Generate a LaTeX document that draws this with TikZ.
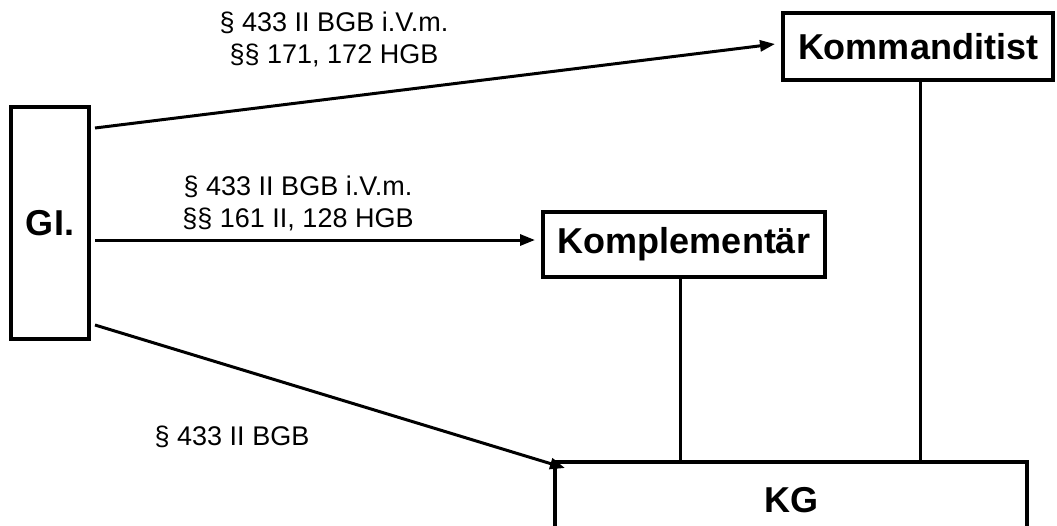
\documentclass[tikz,border=0pt]{standalone}
\usepackage{fontspec}
\setmainfont{Liberation Sans}
\usetikzlibrary{arrows.meta}
\begin{document}
\begin{tikzpicture}[x=1pt,y=-1pt,
  box/.style={draw,line width=3.2pt,inner sep=0pt,font=\fontsize{36}{40}\selectfont\bfseries},
  conn/.style={line width=3pt},
  arr/.style={conn,-{Triangle[length=15pt,width=11pt]}},
  lbl/.style={align=center,font=\fontsize{27}{32}\selectfont,inner sep=0pt}]
\useasboundingbox (0,0) rectangle (1057,525);
\node[box,minimum width=78pt,minimum height=232pt] (gi) at (50,223) {GI.};
\node[box,minimum width=270pt,minimum height=67pt] (komm) at (918,46.5) {Kommanditist};
\node[box,minimum width=282pt,minimum height=65pt] (kompl) at (684,244.5) {Komplementär};
\node[box,minimum width=472pt,minimum height=76pt] (kg) at (791,500) {KG};
\coordinate (s1) at (95,128);
\coordinate (s2) at (95,240);
\coordinate (s3) at (95,325);
\coordinate (e1) at (775,44);
\coordinate (e2) at (535,240);
\coordinate (e3) at (565,468);
\draw[arr] (s1) -- (e1);
\draw[arr] (s2) -- (e2);
\draw[arr] (s3) -- (e3);
\draw[conn] (komm.south -| 920,0) -- (kg.north -| 920,0);
\draw[conn] (kompl.south -| 680,0) -- (kg.north -| 680,0);
\node[lbl] (l1) at (334,39) {§ 433 II BGB i.V.m.\\§§ 171, 172 HGB};
\node[lbl] (l2) at (298,203) {§ 433 II BGB i.V.m.\\§§ 161 II, 128 HGB};
\node[lbl] (l3) at (232,437) {§ 433 II BGB};
\end{tikzpicture}
\end{document}
